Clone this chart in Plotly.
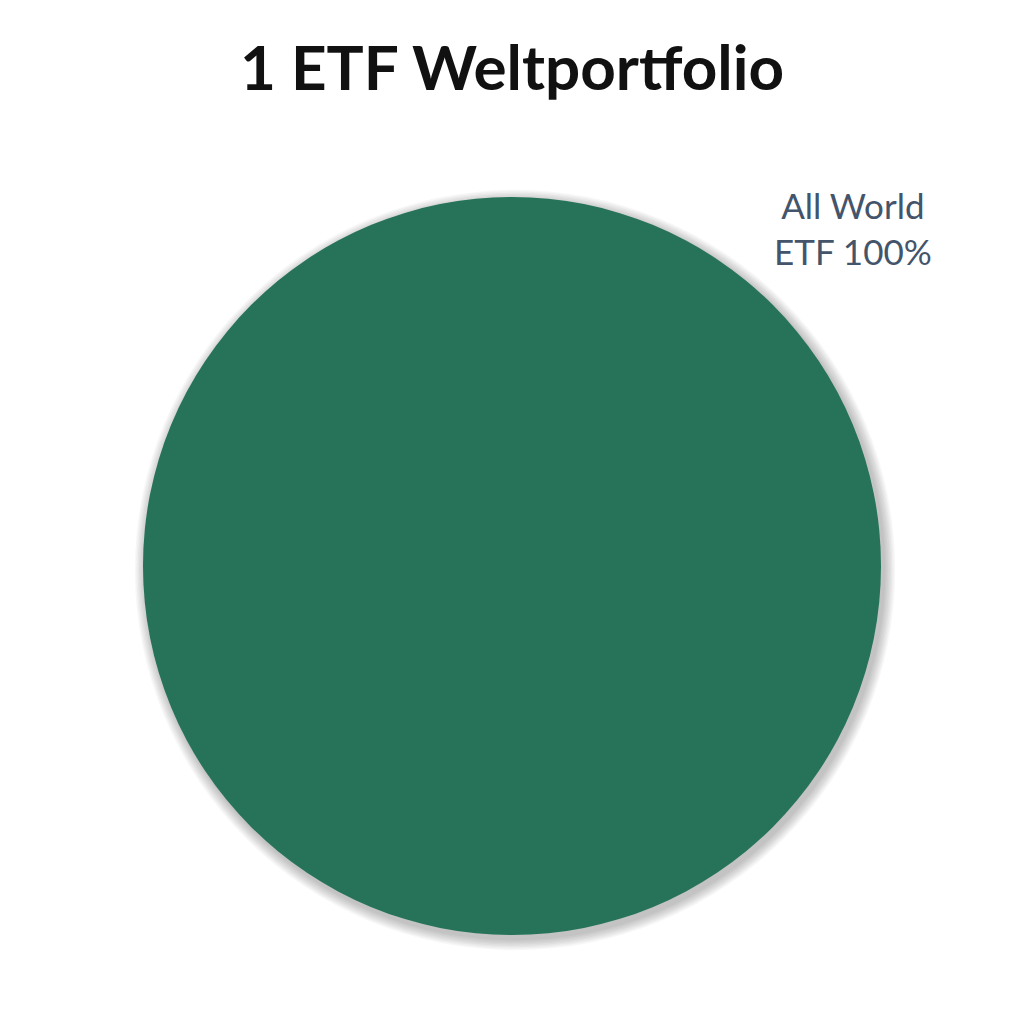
import plotly.graph_objects as go

labels = ["All World ETF"]
values = [100]
colors = ["#26735A"]
title_text = "1 ETF Weltportfolio"

W = H = 1024
OFF = 8  # default body margin of the page
cx, cy, r = 512 - OFF, 566 - OFF, 369

def dom(cx, cy, r):
    return dict(x=[(cx - r) / W, (cx + r) / W], y=[1 - (cy + r) / H, 1 - (cy - r) / H])

fig = go.Figure()

# soft shadow layers behind the pie
for k in range(8, 0, -1):
    fig.add_trace(go.Pie(
        labels=labels, values=values, domain=dom(cx + 3, cy + 4, r + k * 1.4),
        marker=dict(colors=["rgba(0,0,0,0.03)"], line=dict(width=0)),
        textinfo="none", hoverinfo="skip", sort=False, showlegend=False,
    ))

fig.add_trace(go.Pie(
    labels=labels, values=values, domain=dom(cx, cy, r),
    marker=dict(colors=colors, line=dict(width=0)),
    textinfo="none", sort=False, showlegend=False, direction="clockwise",
))

total = sum(values)
fig.add_annotation(
    x=(853 - OFF) / W, y=1 - (228 - OFF) / H, xref="paper", yref="paper",
    xanchor="center", yanchor="middle",
    text=f"All World<br>ETF {values[0] / total * 100:.0f}%",
    showarrow=False, align="center",
    font=dict(family="Lato", size=35, color="#44546A"),
)

fig.update_layout(
    width=W, height=H, margin=dict(l=0, r=0, t=0, b=0),
    paper_bgcolor="white", plot_bgcolor="white",
    title=dict(text=f"<b>{title_text}</b>", x=(512 - OFF) / W, xanchor="center",
               y=1 - (68 - OFF) / H, yanchor="middle",
               font=dict(family="Lato", size=62, color="#111111")),
)

fig.write_html("out.html")
